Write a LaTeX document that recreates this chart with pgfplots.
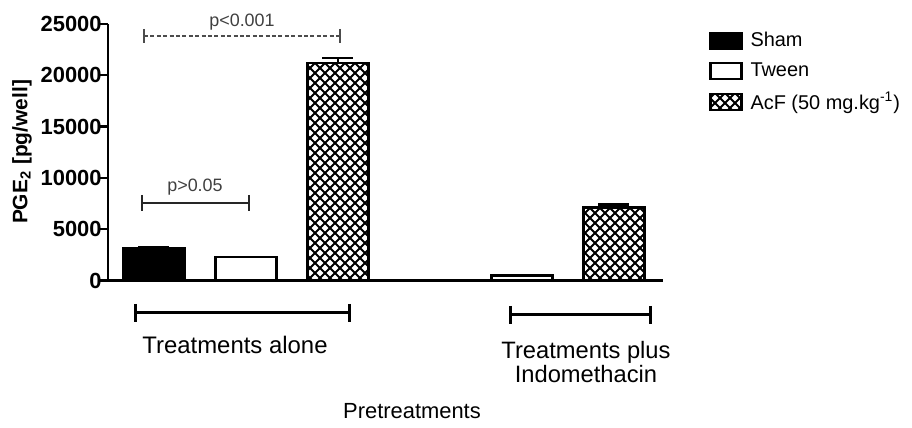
\documentclass[border=0pt]{standalone}
\usepackage{fontspec}
\setmainfont{Liberation Sans}
\usepackage{pgfplots}
\pgfplotsset{compat=1.18}
\usetikzlibrary{patterns}

\pgfdeclarepatternformonly{thickcross}{\pgfqpoint{-1bp}{-1bp}}{\pgfqpoint{6bp}{6bp}}{\pgfqpoint{5bp}{5bp}}{%
 \pgfsetlinewidth{0.95bp}%
 \pgfpathmoveto{\pgfqpoint{-0.2bp}{-0.2bp}}\pgfpathlineto{\pgfqpoint{5.2bp}{5.2bp}}%
 \pgfpathmoveto{\pgfqpoint{-0.2bp}{5.2bp}}\pgfpathlineto{\pgfqpoint{5.2bp}{-0.2bp}}%
 \pgfusepath{stroke}}

\pgfplotsset{
  boxlegend/.style={legend image code/.code={\draw[##1,line width=1.2bp] (0bp,-4bp) rectangle (15.5bp,4bp);}},
}

\pgfplotstableread{
x y e
1 3100 100
4 0 0
}\sham
\pgfplotstableread{
x y e
2 2300 0
5 450 0
}\tween
\pgfplotstableread{
x y e
3 21200 500
6 7100 300
}\acf

\begin{document}
\begin{tikzpicture}
\useasboundingbox (0,0) rectangle (456bp,214bp);
\begin{axis}[
  at={(54bp,73.75bp)}, anchor=south west,
  scale only axis, width=277.35bp, height=128.25bp,
  xmin=0.5, xmax=6.53, ymin=0, ymax=25000,
  axis lines=left,
  axis line style={line width=1.2bp,-},
  xtick=\empty,
  ytick={0,5000,10000,15000,20000,25000},
  scaled y ticks=false,
  yticklabel={\pgfmathprintnumber[fixed,precision=0,1000 sep={}]{\tick}},
  tick style={line width=1.2bp,black},
  tick align=outside, major tick length=4bp,
  /pgf/number format/assume math mode=true,
  /pgf/number format/1000 sep={},
  yticklabel style={font=\bfseries\fontsize{11}{12}\selectfont, inner sep=0pt, xshift=1bp},
  ylabel={PGE\textsubscript{2} [pg/well]},
  ylabel style={at={(axis description cs:-0.155,0.501)}, anchor=center, font=\bfseries\fontsize{10.5}{12}\selectfont},
  xlabel={Pretreatments},
  xlabel style={at={(axis description cs:0.548,-0.509)}, anchor=center, font=\fontsize{11}{13}\selectfont},
  ybar, bar width=0.665,
  clip=false,
  error bars/y dir=plus, error bars/y explicit,
  error bars/error bar style={line width=1.2bp,black},
  error bars/error mark options={rotate=90,mark size=7.75bp,line width=1.2bp,black},
  legend style={at={(1.083,0.985)}, anchor=north west, draw=none, fill=none, inner sep=0pt,
    font=\fontsize{10}{12}\selectfont, row sep=2.5bp, column sep=2bp},
  legend cell align=left,
]
\addplot[bar shift=0pt, draw=black, line width=1.4bp, fill=black, boxlegend] table[x=x,y=y,y error=e] {\sham};
\addlegendentry{Sham}
\addplot[bar shift=0pt, draw=black, line width=1.4bp, fill=white, boxlegend] table[x=x,y=y,y error=e] {\tween};
\addlegendentry{Tween}
\addplot[bar shift=0pt, draw=black, line width=1.4bp, pattern=thickcross, pattern color=black, boxlegend] table[x=x,y=y,y error=e] {\acf};
\addlegendentry{AcF (50 mg.kg\textsuperscript{-1})}
\end{axis}
\begin{scope}[x=0.5bp,y=-0.5bp,yshift=214bp]
  % p-value brackets
  \draw[line width=1.2bp, black!85] (142,195)--(142,211) (142,203)--(249,203) (249,195)--(249,211);
  \node[font=\fontsize{9}{10}\selectfont, text=black!75] at (195,187) {p>0.05};
  \draw[line width=0.6bp, black!70, dash pattern=on 2bp off 1.2bp] (144,36)--(340,36);
  \draw[line width=0.8bp, black!70] (144,29)--(144,43) (340,29)--(340,43);
  \node[font=\fontsize{9}{10}\selectfont, text=black!75] at (242,22) {p<0.001};
  % group brackets
  \draw[line width=1.5bp] (136,304)--(136,322) (136,313)--(350,313) (350,304)--(350,322);
  \draw[line width=1.5bp] (511,306)--(511,324) (511,315)--(651,315) (651,306)--(651,324);
  \node[font=\fontsize{12}{13}\selectfont] at (235,345) {Treatments alone};
  \node[font=\fontsize{11.9}{12.5}\selectfont, align=center] at (586,362) {Treatments plus\\Indomethacin};
\end{scope}
\end{tikzpicture}
\end{document}
